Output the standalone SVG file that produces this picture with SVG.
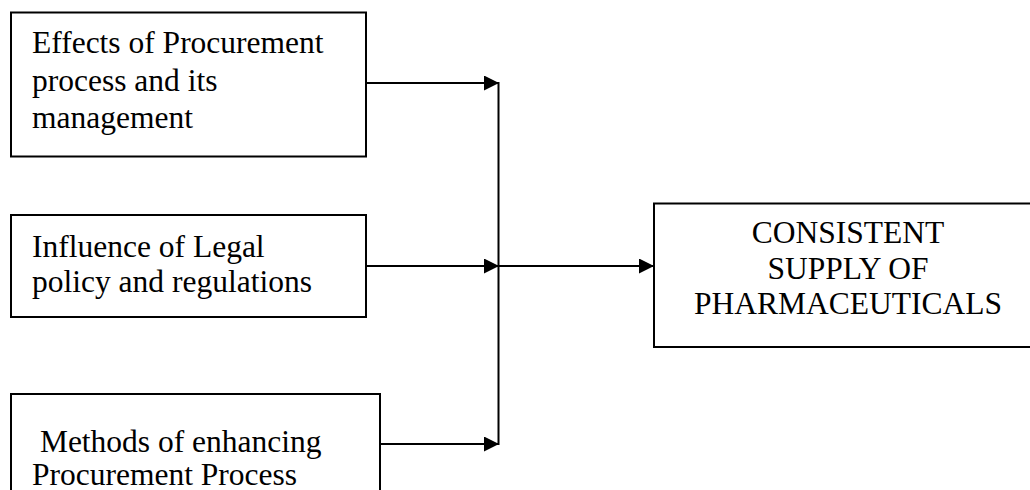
<svg xmlns="http://www.w3.org/2000/svg" width="1030" height="490" viewBox="0 0 1030 490">
<style>
.box{fill:#fff;stroke:#000;stroke-width:2}
.t{font-family:"Liberation Serif","Times New Roman",serif;font-size:31.5px;fill:#000}
.c{text-anchor:middle}
.ln{stroke:#000;stroke-width:2;fill:none}
</style>
<defs>
<marker id="ah" markerUnits="userSpaceOnUse" markerWidth="16" markerHeight="16" refX="15" refY="7.5" orient="auto">
<path d="M0,0 L15,7.5 L0,15 Z" fill="#000"/>
</marker>
</defs>
<rect width="1030" height="490" fill="#fff"/>
<g id="connectors">
<line class="ln" x1="498.5" y1="82" x2="498.5" y2="445"/>
<line class="ln" x1="366" y1="83" x2="499" y2="83" marker-end="url(#ah)"/>
<line class="ln" x1="366" y1="266" x2="499" y2="266" marker-end="url(#ah)"/>
<line class="ln" x1="380" y1="444" x2="499" y2="444" marker-end="url(#ah)"/>
<line class="ln" x1="498" y1="266" x2="654" y2="266" marker-end="url(#ah)"/>
</g>
<g id="node1">
<rect class="box" x="11" y="12.5" width="355" height="144"/>
<text class="t" x="32" y="52.5">Effects of Procurement</text>
<text class="t" x="32" y="90.5">process and its</text>
<text class="t" x="32" y="128">management</text>
</g>
<g id="node2">
<rect class="box" x="11" y="215" width="355" height="102"/>
<text class="t" x="32" y="256.5">Influence of Legal</text>
<text class="t" x="32" y="292">policy and regulations</text>
</g>
<g id="node3">
<rect class="box" x="11" y="394" width="369" height="110"/>
<text class="t" x="32" y="451.5" xml:space="preserve"> Methods of enhancing</text>
<text class="t" x="32" y="485">Procurement Process</text>
</g>
<g id="node4">
<rect class="box" x="654" y="203.5" width="390" height="143.5"/>
<text class="t c" x="848" y="243">CONSISTENT</text>
<text class="t c" x="848" y="279">SUPPLY OF</text>
<text class="t c" x="848" y="314">PHARMACEUTICALS</text>
</g>
</svg>
